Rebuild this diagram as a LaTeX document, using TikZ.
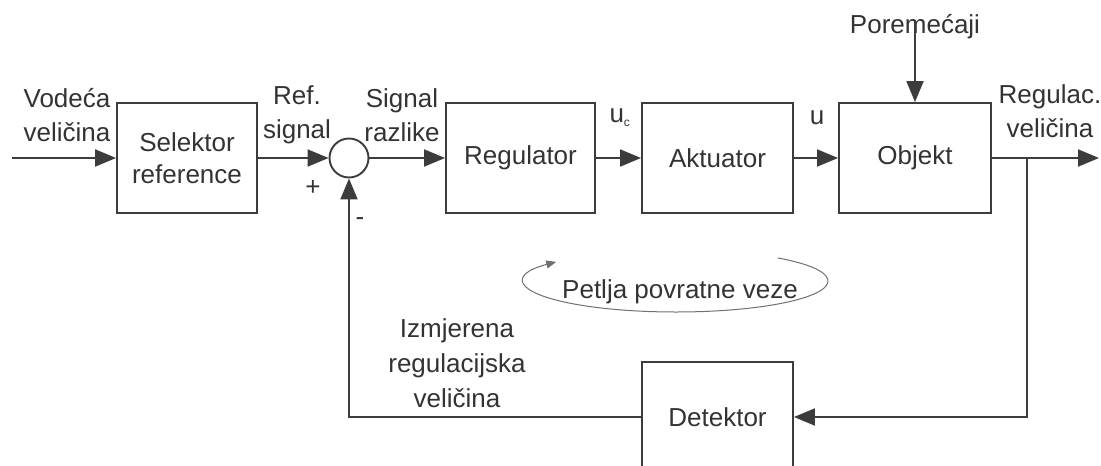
\documentclass[tikz,border=0pt]{standalone}
\usepackage{fontspec}
\setmainfont{Liberation Sans}
\usetikzlibrary{arrows.meta}
\definecolor{ink}{HTML}{333333}
\definecolor{lin}{HTML}{3C3C3C}
\definecolor{loopc}{HTML}{707070}
\tikzset{
  blk/.style={draw=lin, line width=1.9pt, minimum height=110pt, inner sep=0pt, align=center, text=ink},
  lbl/.style={text=ink, align=center, inner sep=0pt},
  sig/.style={draw=lin, line width=1.9pt, -{Triangle[length=21pt,width=17pt]}},
  wire/.style={draw=lin, line width=1.9pt},
  loopar/.style={draw=loopc, line width=1pt, -{Triangle[length=10pt,width=8pt]}},
}
\begin{document}
\begin{tikzpicture}[x=1pt,y=-1pt, font=\fontsize{26}{34}\selectfont]
\useasboundingbox (0,0) rectangle (1101,466);
\clip (0,0) rectangle (1101,466);
\fill[white] (0,0) rectangle (1101,466);
% blocks
\node[blk, minimum width=140pt] (sel) at (187,158) {Selektor\\[-2pt]reference};
\node[blk, minimum width=149pt] (reg) at (520.5,158) {Regulator};
\node[blk, minimum width=151pt] (akt) at (717.5,158) {Aktuator};
\node[blk, minimum width=152pt] (obj) at (915,158) {Objekt};
\node[blk, minimum width=151pt] (det) at (717.5,417) {Detektor};
\node[draw=lin, line width=1.9pt, circle, minimum size=39pt, inner sep=0pt] (sum) at (349,158) {};
% free ends
\coordinate (in) at (12,158);
\coordinate (out) at (1099,158);
\coordinate (br) at (1027,158);
\coordinate (brd) at (1027,417);
\coordinate (fbl) at (349,417);
\coordinate (ellc) at (676,281);
% labels
\node[lbl] (l1) at (67,115) {Vodeća\\veličina};
\node[lbl] (l2) at (297,115) {Ref.\\signal};
\node[lbl] (l3) at (402,115) {Signal\\razlike};
\node[lbl] (lp) at (313,188) {+};
\node[lbl] (lm) at (360,222) {-};
\node[lbl] (luc) at (620,118) {u\textsubscript{\fontsize{12}{12}\selectfont c}};
\node[lbl] (lu) at (817,118) {u};
\node[lbl] (l4) at (1050,111) {Regulac.\\veličina};
\node[lbl] (dist) at (915,27) {Poremećaji};
\node[lbl] (loop) at (680,292) {Petlja povratne veze};
\node[lbl, align=center] (meas) at (457,363) {Izmjerena\\[1pt]regulacijska\\[1pt]veličina};
% connectors
\draw[sig] (in) -- (sel.west);
\draw[sig] (sel.east) -- (sum.west);
\draw[sig] (sum.east) -- (reg.west);
\draw[sig] (reg.east) -- (akt.west);
\draw[sig] (akt.east) -- (obj.west);
\draw[sig] (obj.east) -- (out);
\draw[sig] ([yshift=18pt]dist.south) -- (obj.north);
\draw[sig] (br) -- (brd) -- (det.east);
\draw[sig] (det.west) -- (fbl) -- (sum.south);
% feedback loop mark
\draw[loopar] ([shift={(-48:152 and 31)}]ellc) arc[start angle=-48, end angle=218, x radius=152, y radius=31];
\end{tikzpicture}
\end{document}
